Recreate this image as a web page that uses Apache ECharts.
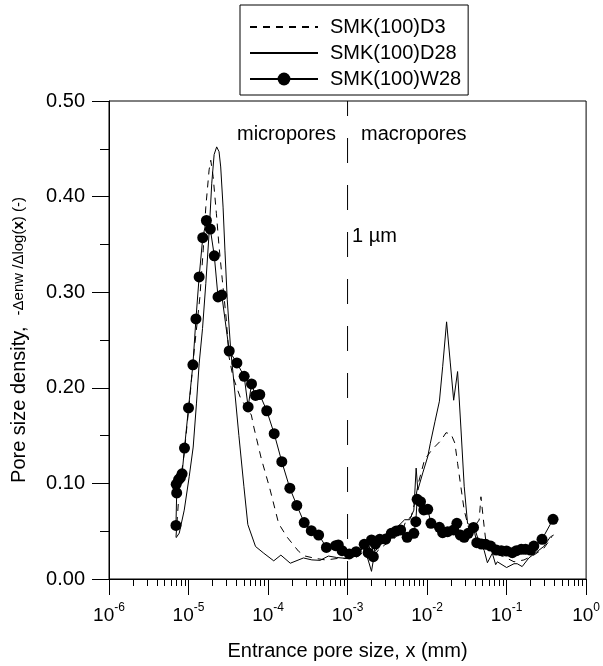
<!DOCTYPE html>
<html><head><meta charset="utf-8">
<script src="https://cdn.jsdelivr.net/npm/echarts@6/dist/echarts.min.js"></script>
<style>html,body{margin:0;padding:0;background:#fff}#c{width:603px;height:666px}</style>
</head><body><div id="c"></div>
<script>
const seriesNames = ['SMK(100)D3', 'SMK(100)D28', 'SMK(100)W28'];

// [pore size (mm), density]
const d3 = [[6.96e-6,0.044],[7.5e-6,0.083],[8.04e-6,0.107],[8.83e-6,0.131],[9.72e-6,0.166],[1.07e-5,0.201],[1.18e-5,0.2395],[1.39e-5,0.295],[1.53e-5,0.344],[1.65e-5,0.389],[1.815e-5,0.428],[1.905e-5,0.438],[2.04e-5,0.421],[2.24e-5,0.3825],[2.42e-5,0.348],[2.66e-5,0.313],[2.99e-5,0.271],[3.23e-5,0.2325],[3.62e-5,0.2116],[4.52e-5,0.189],[6.17e-5,0.1715],[6.62e-5,0.159],[8.22e-5,0.126],[1.05e-4,0.095],[1.36e-4,0.058],[1.73e-4,0.044],[2.42e-4,0.029],[2.93e-4,0.024],[3.91e-4,0.0216],[5.34e-4,0.0199],[7.65e-4,0.0216],[1.02e-3,0.0216],[1.295e-3,0.0227],[1.62e-3,0.0286],[2.0e-3,0.0199],[2.42e-3,0.030],[2.93e-3,0.0356],[3.73e-3,0.041],[4.97e-3,0.052],[5.46e-3,0.0617],[6.31e-3,0.065],[6.96e-3,0.079],[7.76e-3,0.100],[9.28e-3,0.1245],[1.1e-2,0.133],[1.24e-2,0.138],[1.5e-2,0.145],[1.73e-2,0.153],[2.0e-2,0.1517],[2.24e-2,0.142],[2.42e-2,0.121],[2.66e-2,0.0966],[2.93e-2,0.072],[3.23e-2,0.058],[3.39e-2,0.0513],[3.91e-2,0.0547],[4.52e-2,0.0617],[4.76e-2,0.086],[5.22e-2,0.055],[5.46e-2,0.041],[6.96e-2,0.0269],[9.28e-2,0.0233],[1.24e-1,0.018],[1.65e-1,0.0199],[2.2e-1,0.025],[2.93e-1,0.032],[3.73e-1,0.0442]];

const d28 = [[6.96e-6,0.043],[7.65e-6,0.048],[8.83e-6,0.072],[1.02e-5,0.107],[1.145e-5,0.138],[1.26e-5,0.184],[1.36e-5,0.225],[1.5e-5,0.262],[1.65e-5,0.309],[1.815e-5,0.362],[1.96e-5,0.414],[2.1e-5,0.444],[2.26e-5,0.452],[2.42e-5,0.447],[2.54e-5,0.431],[2.72e-5,0.389],[2.87e-5,0.344],[3.07e-5,0.292],[3.39e-5,0.240],[3.73e-5,0.205],[4.3e-5,0.15],[4.97e-5,0.097],[5.57e-5,0.057],[6.96e-5,0.034],[8.83e-5,0.027],[1.18e-4,0.019],[1.45e-4,0.025],[1.905e-4,0.0165],[2.79e-4,0.022],[3.55e-4,0.020],[4.52e-4,0.0195],[5.74e-4,0.024],[7.29e-4,0.0225],[9.72e-4,0.0215],[1.295e-3,0.024],[1.57e-3,0.033],[1.815e-3,0.020],[2.0e-3,0.008],[2.2e-3,0.0286],[2.66e-3,0.037],[3.39e-3,0.044],[4.3e-3,0.055],[5.22e-3,0.062],[6.03e-3,0.062],[6.82e-3,0.072],[7.29e-3,0.116],[7.65e-3,0.093],[8.83e-3,0.111],[1.02e-2,0.128],[1.1e-2,0.142],[1.26e-2,0.165],[1.43e-2,0.186],[1.57e-2,0.222],[1.76e-2,0.269],[1.96e-2,0.226],[2.16e-2,0.187],[2.42e-2,0.217],[2.66e-2,0.159],[2.93e-2,0.097],[3.23e-2,0.058],[3.91e-2,0.055],[4.52e-2,0.038],[5.22e-2,0.030],[5.74e-2,0.017],[6.62e-2,0.027],[7.29e-2,0.015],[7.65e-2,0.018],[1.0e-1,0.012],[1.24e-1,0.016],[1.36e-1,0.016],[1.57e-1,0.013],[1.905e-1,0.022],[2.54e-1,0.030],[2.93e-1,0.034],[3.55e-1,0.044],[3.91e-1,0.046]];

const w28 = [[6.95e-6,0.056],[7.1e-6,0.090],[7.0e-6,0.099],[7.5e-6,0.104],[7.9e-6,0.106],[8.3e-6,0.110],[8.9e-6,0.137],[1.0e-5,0.179],[1.135e-5,0.224],[1.24e-5,0.272],[1.36e-5,0.316],[1.51e-5,0.357],[1.68e-5,0.375],[1.88e-5,0.366],[2.11e-5,0.338],[2.35e-5,0.295],[2.62e-5,0.297],[3.25e-5,0.2385],[4.06e-5,0.226],[5.01e-5,0.212],[5.62e-5,0.180],[6.2e-5,0.204],[6.96e-5,0.192],[7.87e-5,0.193],[9.64e-5,0.176],[1.195e-4,0.152],[1.49e-4,0.1227],[1.88e-4,0.095],[2.3e-4,0.077],[2.85e-4,0.059],[3.5e-4,0.0505],[4.33e-4,0.046],[5.42e-4,0.033],[7.08e-4,0.0348],[7.65e-4,0.0356],[8.53e-4,0.0296],[1.05e-3,0.0262],[1.285e-3,0.0286],[1.62e-3,0.0363],[1.815e-3,0.0275],[2.0e-3,0.0408],[2.11e-3,0.0233],[2.24e-3,0.0366],[2.54e-3,0.0415],[3.02e-3,0.0418],[3.55e-3,0.0478],[4.1e-3,0.0502],[4.65e-3,0.0513],[5.62e-3,0.0436],[6.82e-3,0.0478],[7.22e-3,0.060],[7.5e-3,0.0834],[8.27e-3,0.0809],[9.1e-3,0.0722],[1.02e-2,0.0729],[1.12e-2,0.0583],[1.43e-2,0.0541],[1.57e-2,0.0484],[1.815e-2,0.0495],[2.16e-2,0.0513],[2.37e-2,0.0583],[2.62e-2,0.046],[2.93e-2,0.0436],[3.29e-2,0.0478],[3.84e-2,0.054],[4.22e-2,0.038],[4.83e-2,0.0366],[5.46e-2,0.0363],[6.31e-2,0.0345],[7.43e-2,0.0303],[8.59e-2,0.0296],[1.0e-1,0.0293],[1.18e-1,0.0275],[1.33e-1,0.0296],[1.53e-1,0.031],[1.73e-1,0.031],[2.0e-1,0.0303],[2.2e-1,0.0345],[2.79e-1,0.0415],[3.84e-1,0.0624]];

const xMajorTicks = [1e-6, 1e-5, 1e-4, 1e-3, 1e-2, 1e-1, 1];
const yTickLabels = ['0.00', '0.10', '0.20', '0.30', '0.40', '0.50'];
const yMin = 0, yMax = 0.5;
const boundary = 1e-3; // 1 µm
const annotations = ['micropores', 'macropores', '1 µm'];

const FONT = 'Arial, "Liberation Sans", sans-serif';
const xMinorTicks = [];
for (let i = 0; i < xMajorTicks.length - 1; i++) {
  for (let k = 2; k <= 9; k++) xMinorTicks.push(xMajorTicks[i] * k);
}

const chart = echarts.init(document.getElementById('c'), null, {renderer: 'canvas'});
const hiddenSym = {color: 'rgba(0,0,0,0)', borderWidth: 0, opacity: 0};

chart.setOption({
  animation: false,
  backgroundColor: '#fff',
  textStyle: {fontFamily: FONT, color: '#000'},
  grid: {left: 109, right: 14, top: 101, bottom: 87, show: true, borderColor: '#000', borderWidth: 1, backgroundColor: 'transparent'},
  legend: {
    data: [
      {name: seriesNames[0], itemStyle: hiddenSym},
      {name: seriesNames[1], itemStyle: hiddenSym},
      {name: seriesNames[2]}
    ],
    orient: 'vertical',
    left: 240, top: 5,
    itemWidth: 68, itemHeight: 16, itemGap: 6,
    padding: [12, 7, 6, 9],
    borderColor: '#000', borderWidth: 1,
    textStyle: {fontFamily: FONT, fontSize: 20, color: '#000', padding: [0, 0, 0, 7]}
  },
  xAxis: [{
    type: 'log', logBase: 10, min: 1e-6, max: 1,
    position: 'bottom',
    name: 'Entrance pore size, x (mm)', nameLocation: 'middle', nameGap: 62,
    nameTextStyle: {fontFamily: FONT, fontSize: 20, color: '#000'},
    axisLine: {show: true, lineStyle: {color: '#000', width: 1}},
    axisTick: {show: true, inside: false, length: 16, customValues: xMajorTicks, lineStyle: {color: '#000', width: 1}},
    axisLabel: {
      show: true, margin: 23, customValues: xMajorTicks,
      formatter: function (v) { return '{b|10}{s|' + Math.round(Math.log10(v)) + '}'; },
      rich: {
        b: {fontFamily: FONT, fontSize: 19, color: '#000', verticalAlign: 'bottom'},
        s: {fontFamily: FONT, fontSize: 12, color: '#000', verticalAlign: 'bottom', padding: [0, 0, 11, 0]}
      }
    },
    splitLine: {show: false}
  }, {
    type: 'log', logBase: 10, min: 1e-6, max: 1,
    position: 'bottom', offset: 0,
    axisLine: {show: false},
    axisTick: {show: true, inside: false, length: 7, customValues: xMinorTicks, lineStyle: {color: '#000', width: 1}},
    axisLabel: {show: false},
    splitLine: {show: false}
  }],
  yAxis: {
    type: 'value', min: yMin, max: yMax, interval: 0.1,
    name: '{a|Pore size density,  }{c|-Δenw /Δlog(}{d|x}{c|) (-)}',
    nameLocation: 'middle', nameGap: 80, nameRotate: 90,
    nameTextStyle: {
      rich: {
        a: {fontFamily: FONT, fontSize: 20, color: '#000'},
        c: {fontFamily: FONT, fontSize: 15, color: '#000'},
        d: {fontFamily: FONT, fontSize: 15, fontWeight: 'bold', color: '#000'}
      }
    },
    axisLine: {show: true, lineStyle: {color: '#000', width: 1}},
    axisTick: {show: true, inside: false, length: 17, lineStyle: {color: '#000', width: 1}},
    minorTick: {show: true, splitNumber: 2, length: 9, lineStyle: {color: '#000', width: 1}},
    axisLabel: {
      margin: 24, fontFamily: FONT, fontSize: 20, color: '#000',
      formatter: function (v) { return yTickLabels[Math.round(v * 10)]; }
    },
    splitLine: {show: false}
  },
  series: [{
    name: 'boundary', type: 'line', data: [[boundary, yMin], [boundary, yMax]],
    symbol: 'none', silent: true,
    lineStyle: {color: '#000', width: 1, type: [25, 22], dashOffset: 7},
    z: 1
  }, {
    name: seriesNames[0], type: 'line', data: d3, symbol: 'none',
    lineStyle: {color: '#000', width: 1, type: [7, 6]},
    itemStyle: {color: '#000'},
    z: 2
  }, {
    name: seriesNames[1], type: 'line', data: d28, symbol: 'none',
    lineStyle: {color: '#000', width: 1, type: 'solid'},
    itemStyle: {color: '#000'},
    z: 3
  }, {
    name: seriesNames[2], type: 'line', data: w28, symbol: 'circle', symbolSize: 11,
    showAllSymbol: true,
    lineStyle: {color: '#000', width: 1},
    itemStyle: {color: '#000'},
    z: 4
  }],
  graphic: [
    {type: 'text', left: 237, top: 124, style: {text: annotations[0], font: '20px ' + FONT, fill: '#000'}},
    {type: 'text', left: 361, top: 124, style: {text: annotations[1], font: '20px ' + FONT, fill: '#000'}},
    {type: 'text', left: 352, top: 226, style: {text: annotations[2], font: '20px ' + FONT, fill: '#000'}}
  ]
});
</script></body></html>
